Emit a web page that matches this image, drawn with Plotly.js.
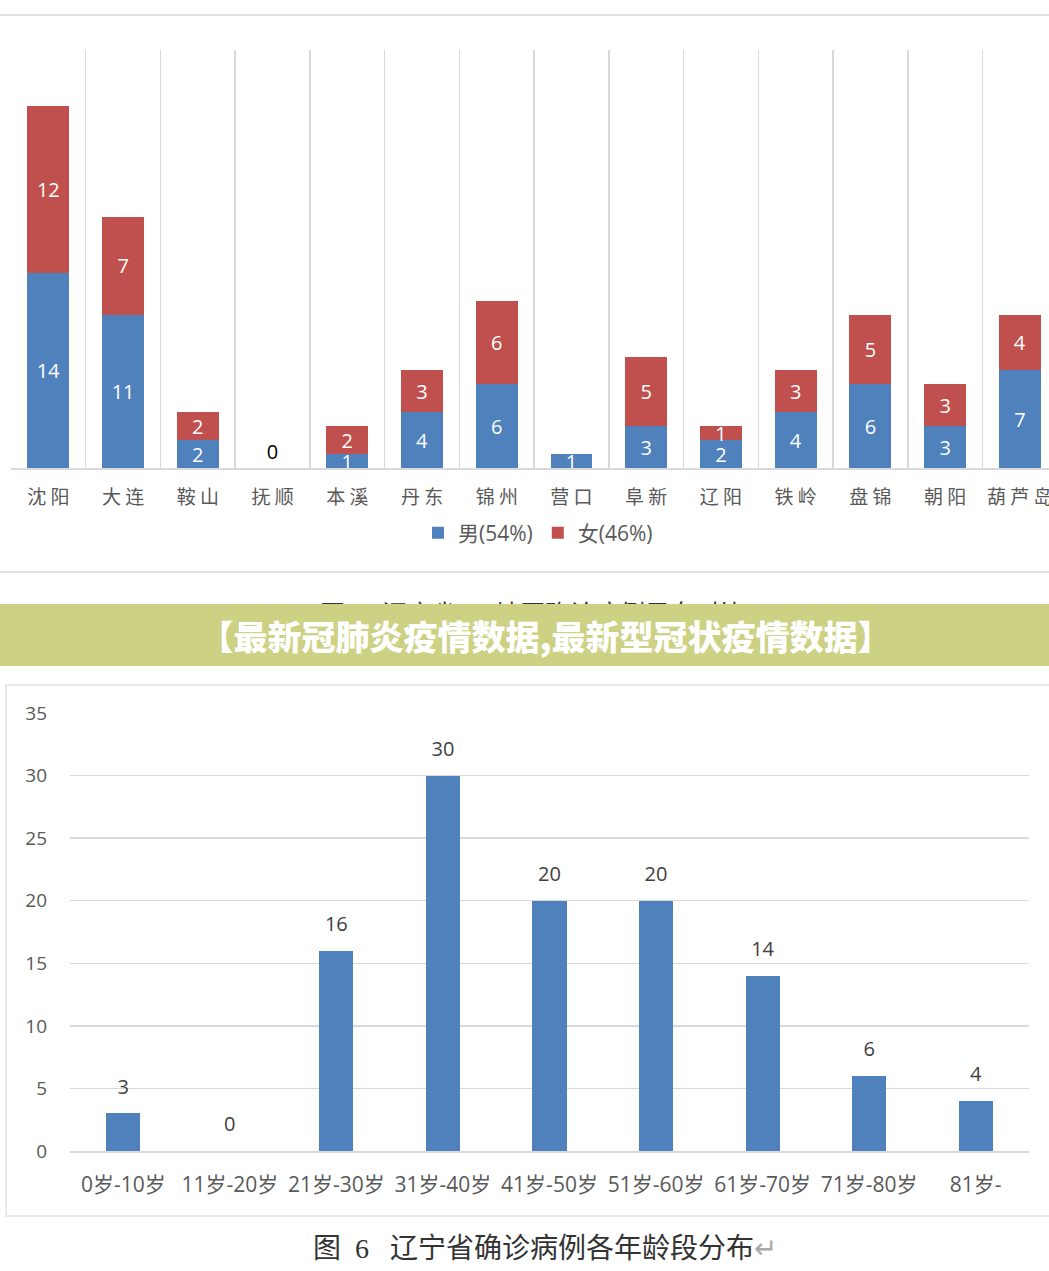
<!DOCTYPE html>
<html>
<head>
<meta charset="utf-8">
<script src="https://cdn.plot.ly/plotly-3.0.1.min.js"></script>
<style>
  html, body { margin: 0; padding: 0; background: #fff; }
  #chart { width: 1049px; height: 1271px; }
</style>
</head>
<body>
<div id="chart"></div>
<script>
// Figure 5: male / female cases by city
const regions = ['沈阳', '大连', '鞍山', '抚顺', '本溪', '丹东', '锦州', '营口', '阜新', '辽阳', '铁岭', '盘锦', '朝阳', '葫芦岛'];
const maleCases = [14, 11, 2, 0, 1, 4, 6, 1, 3, 2, 4, 6, 3, 7];
const femaleCases = [12, 7, 2, 0, 2, 3, 6, 0, 5, 1, 3, 5, 3, 4];
const maleName = '男(54%)';
const femaleName = '女(46%)';

// Figure 6: cases by age group
const ageGroups = ['0岁-10岁', '11岁-20岁', '21岁-30岁', '31岁-40岁', '41岁-50岁', '51岁-60岁', '61岁-70岁', '71岁-80岁', '81岁-'];
const ageCases = [3, 0, 16, 30, 20, 20, 14, 6, 4];

const W = 1049, H = 1271;
const px = x => x / W;          // pixel -> paper x
const py = y => 1 - y / H;      // pixel -> paper y

const numFont = 'Open Sans, Noto Sans CJK SC, sans-serif';
const cjkFont = 'Noto Sans CJK SC, sans-serif';
const grey = '#595959';
const gridGrey = '#d9d9d9';
const nb = '\u00a0';

// labels: hide a zero segment unless the whole column is zero
const maleText = maleCases.map(v => v === 0 ? '' : String(v));
const femaleText = femaleCases.map((v, i) => (v === 0 && maleCases[i] !== 0) ? '' : String(v));
const femalePos = femaleCases.map(v => v === 0 ? 'outside' : 'inside');

const traces = [
  {
    type: 'bar', name: maleName, x: regions, y: maleCases,
    xaxis: 'x', yaxis: 'y', width: 0.56,
    marker: { color: '#4f81bd' },
    text: maleText, textposition: 'inside', constraintext: 'none',
    textangle: 0, insidetextanchor: 'middle',
    insidetextfont: { color: '#ffffff', size: 20, family: numFont },
    hoverinfo: 'x+y'
  },
  {
    type: 'bar', name: femaleName, x: regions, y: femaleCases,
    xaxis: 'x', yaxis: 'y', width: 0.56,
    marker: { color: '#c0504d' },
    text: femaleText, textposition: femalePos, constraintext: 'none',
    textangle: 0, insidetextanchor: 'middle',
    insidetextfont: { color: '#ffffff', size: 20, family: numFont },
    outsidetextfont: { color: '#000000', size: 20, family: numFont },
    cliponaxis: false,
    hoverinfo: 'x+y'
  },
  {
    type: 'bar', x: ageGroups, y: ageCases,
    xaxis: 'x2', yaxis: 'y2', width: 0.32, showlegend: false,
    marker: { color: '#4f81bd' },
    hoverinfo: 'x+y'
  },
  {
    // value labels above the age bars
    type: 'scatter', mode: 'markers+text', x: ageGroups, y: ageCases,
    xaxis: 'x2', yaxis: 'y2', showlegend: false, cliponaxis: false,
    marker: { size: 22, opacity: 0 },
    text: ageCases.map(String), textposition: 'top center',
    textfont: { color: '#404040', size: 20, family: numFont },
    hoverinfo: 'skip'
  }
];

const layout = {
  width: W, height: H,
  margin: { l: 0, r: 0, t: 0, b: 0 },
  paper_bgcolor: '#ffffff', plot_bgcolor: 'rgba(0,0,0,0)',
  barmode: 'stack',
  font: { family: numFont, color: grey },
  xaxis: {
    domain: [px(11), 1], anchor: 'y',
    type: 'category', range: [-0.5, 13.39],
    tickson: 'boundaries', showgrid: true, gridcolor: gridGrey, gridwidth: 1.5,
    showline: true, linecolor: gridGrey, linewidth: 1.5,
    ticks: '', ticklabelstandoff: 12,
    tickvals: regions, ticktext: regions.map(r => r.split('').join(nb)),
    tickfont: { family: cjkFont, size: 19, color: grey },
    fixedrange: true
  },
  yaxis: {
    domain: [py(468), py(50)], anchor: 'x',
    range: [0, 30], visible: false, fixedrange: true
  },
  xaxis2: {
    domain: [px(70), px(1029)], anchor: 'y2',
    type: 'category', range: [-0.5, ageGroups.length - 0.5], showgrid: false,
    showline: true, linecolor: gridGrey, linewidth: 1.5,
    ticks: '', ticklabelstandoff: 14,
    tickfont: { family: numFont, size: 21, color: grey },
    fixedrange: true
  },
  yaxis2: {
    domain: [py(1151), py(713)], anchor: 'x2',
    range: [0, 35], dtick: 5, tick0: 0,
    showgrid: true, gridcolor: gridGrey, gridwidth: 1.5, zeroline: false,
    showline: false, ticks: '', ticklabelstandoff: 22,
    tickfont: { family: numFont, size: 19, color: grey },
    fixedrange: true
  },
  showlegend: true,
  legend: {
    orientation: 'h', traceorder: 'normal',
    x: px(538), xanchor: 'center', y: py(533), yanchor: 'middle',
    font: { family: numFont, size: 21, color: grey },
    itemwidth: 30, bgcolor: 'rgba(0,0,0,0)', itemclick: false, itemdoubleclick: false
  },
  shapes: [
    // frame of figure 5
    { type: 'rect', xref: 'paper', yref: 'paper', x0: px(-5), x1: px(1055), y0: py(572), y1: py(15),
      line: { color: gridGrey, width: 1.5 }, layer: 'below' },
    // frame of figure 6
    { type: 'rect', xref: 'paper', yref: 'paper', x0: px(6), x1: px(1060), y0: py(1216), y1: py(685),
      line: { color: '#e3e3e3', width: 1.5 }, layer: 'below' }
  ],
  annotations: [
    {
      xref: 'paper', yref: 'paper', x: px(543), y: py(614), xanchor: 'center', yanchor: 'middle',
      text: '图' + nb + '5' + nb + nb + nb + '辽宁省' + nb + '14' + nb + '地区确诊病例男女对比<span style="color:#aaaaaa">↵</span>',
      showarrow: false, font: { family: 'Liberation Serif, Noto Sans CJK SC, serif', size: 25, color: '#333333' }
    },
    {
      xref: 'paper', yref: 'paper', x: px(545), y: py(635), xanchor: 'center', yanchor: 'middle',
      width: W + 50, height: 62, bgcolor: '#cdd184', borderpad: 0, borderwidth: 0,
      text: '【最新冠肺炎疫情数据,最新型冠状疫情数据】',
      showarrow: false, font: { family: cjkFont, size: 34, weight: 900, color: '#ffffff' }
    },
    {
      xref: 'paper', yref: 'paper', x: px(545), y: py(1248), xanchor: 'center', yanchor: 'middle',
      text: '图' + nb + nb + '6' + nb + nb + nb + '辽宁省确诊病例各年龄段分布<span style="color:#aaaaaa">↵</span>',
      showarrow: false, font: { family: 'Liberation Serif, Noto Sans CJK SC, serif', size: 28, color: '#333333' }
    }
  ]
};

Plotly.newPlot('chart', traces, layout, { displayModeBar: false, staticPlot: true });
</script>
</body>
</html>
